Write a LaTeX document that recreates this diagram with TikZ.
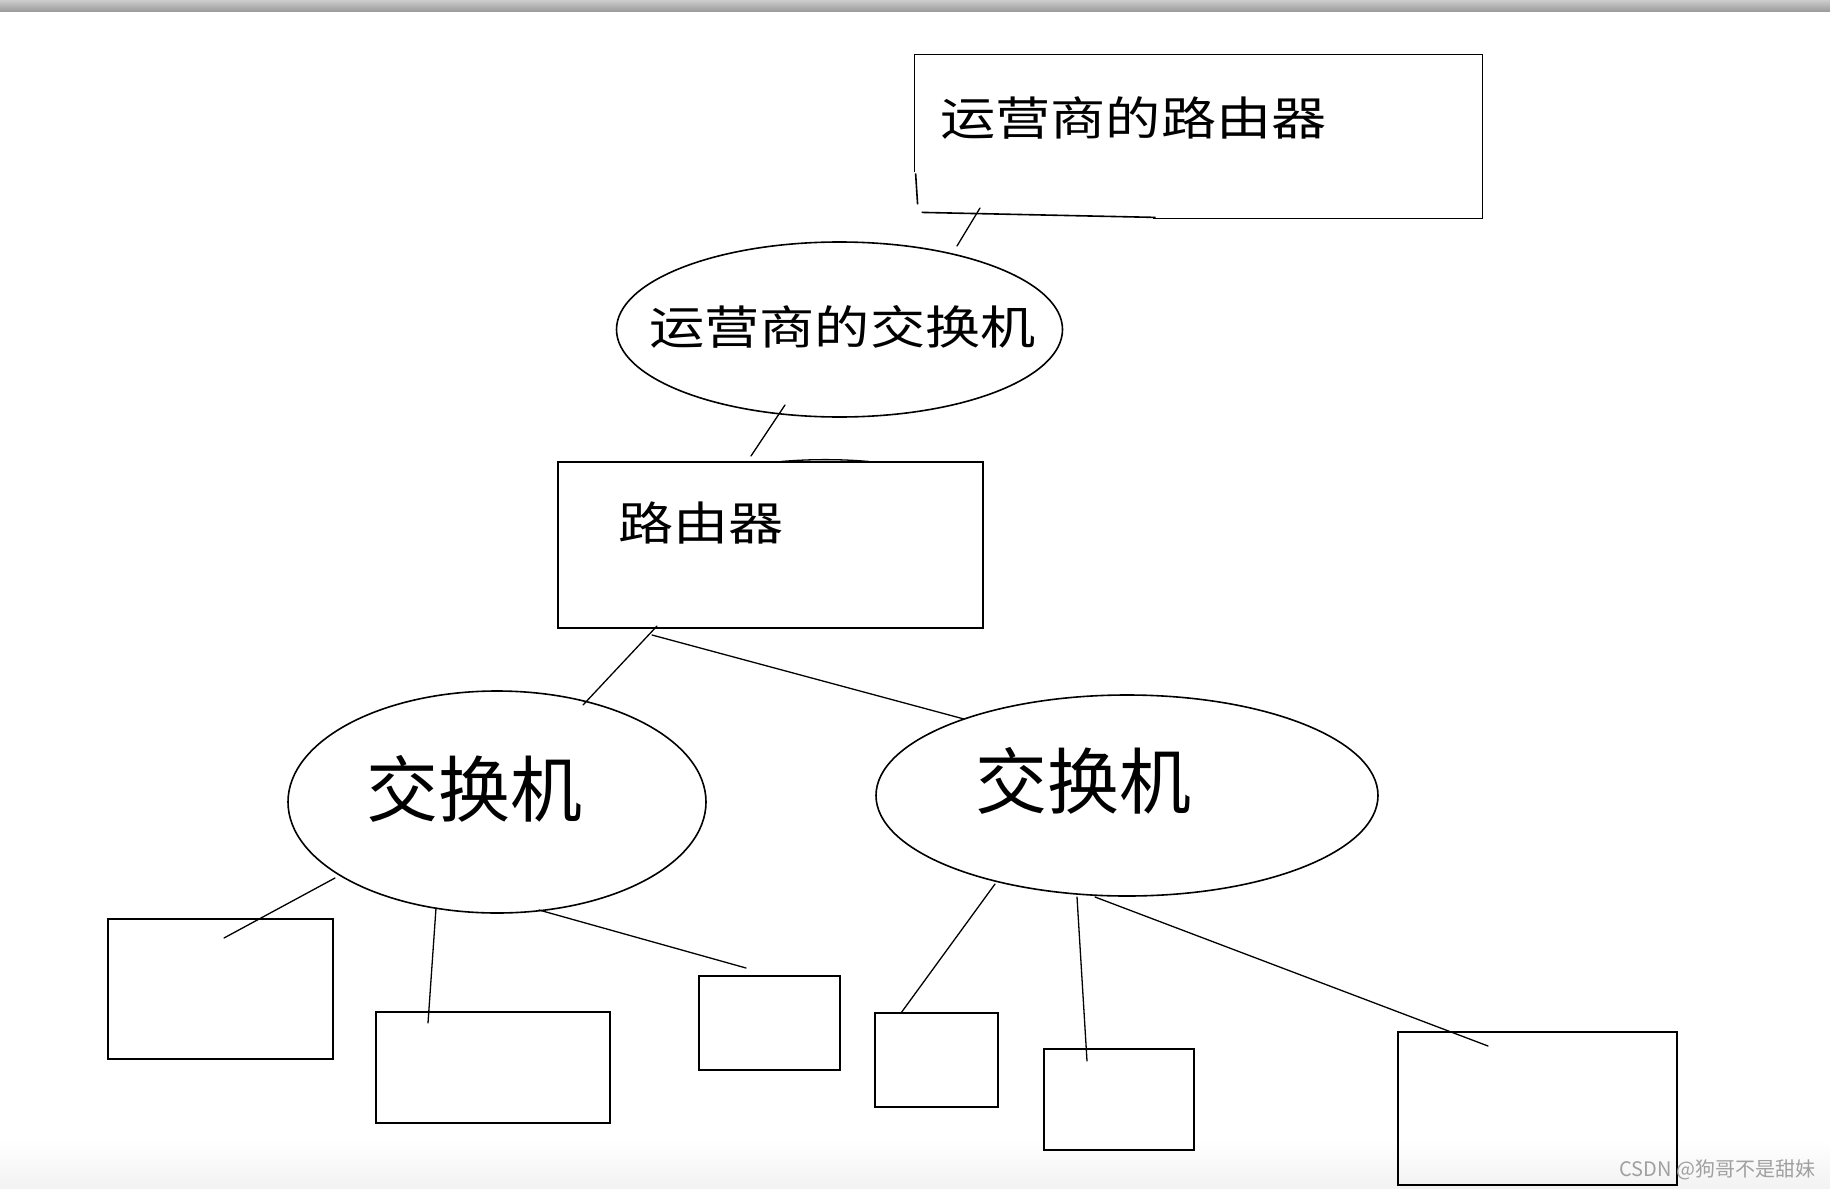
\documentclass[tikz,border=0pt]{standalone}
\usepackage{fontspec}
\setmainfont{Noto Sans CJK SC}
\newfontfamily\cjkwide[FakeStretch=1.2]{Noto Sans CJK SC}
\usepackage{tikz}
\usetikzlibrary{calc, shapes.geometric}
\definecolor{markgray}{HTML}{A0A0A0}

\begin{document}
\begin{tikzpicture}[
  x=0.5pt, y=-0.5pt,
  boxnode/.style={rectangle, draw, line width=0.8pt, inner sep=0pt, outer sep=0pt},
  swnode/.style={ellipse, draw, line width=0.8pt, inner sep=0pt, outer sep=0pt},
  lbl/.style={inner sep=0pt, font=\cjkwide\fontsize{23}{23}\selectfont},
  biglbl/.style={inner sep=0pt, font=\fontsize{36}{36}\selectfont},
  wire/.style={line width=0.65pt, line cap=round}
]

% === Canvas ===
\useasboundingbox (0,0) rectangle (1830,1188);
\fill[white] (0,0) rectangle (1830,1188);
\shade[top color=white, bottom color=black!5] (0,1140) rectangle (1830,1188);
\shade[top color=black!20, bottom color=black!40] (0,0) rectangle (1830,12);

% === Top: operator router (hand-drawn outline) ===
\node[rectangle, inner sep=0pt, minimum width=283.5pt, minimum height=81.5pt] (isp) at (1198.5,136.5) {};
\draw[boxnode] ($(isp.south west)+(0,-46)$) |- (isp.north east) |- ($(isp.south east)+(-329,0)$);
\draw[boxnode] ($(isp.south west)+(1,-45)$) -- ($(isp.south west)+(3,-14)$);
\draw[boxnode] ($(isp.south west)+(7,-6)$) -- ($(isp.south west)+(241,-1)$);
\node[lbl] (isptext) at (1133.5,118) {运营商的路由器};

% === Operator switch ===
\node[swnode, minimum width=223pt, minimum height=87.5pt] (ispsw) at (839.5,329.5) {};
\node[lbl] (ispswtext) at (842.5,326.5) {运营商的交换机};

% === Home router ===
\node[boxnode, minimum width=212.5pt, minimum height=83pt] (router) at (770.5,545) {};
\node[lbl] (routertext) at (701,522.5) {路由器};

% === Two switches ===
\node[swnode, minimum width=209pt, minimum height=111pt] (swl) at (497,802) {};
\node[biglbl] (swltext) at (474.5,789) {交换机};
\node[swnode, minimum width=251pt, minimum height=100.5pt] (swr) at (1127,795.5) {};
\node[biglbl] (swrtext) at (1083.5,781) {交换机};

% === Hosts ===
\node[boxnode, minimum width=112.5pt, minimum height=70pt] (pc1) at (220.5,989) {};
\node[boxnode, minimum width=117pt, minimum height=55.5pt] (pc2) at (493,1067.5) {};
\node[boxnode, minimum width=70.5pt, minimum height=47pt] (pc3) at (769.5,1023) {};
\node[boxnode, minimum width=61.5pt, minimum height=47pt] (pc4) at (936.5,1060) {};
\node[boxnode, minimum width=75pt, minimum height=50.5pt] (pc5) at (1119,1099.5) {};
\node[boxnode, minimum width=139.5pt, minimum height=76.5pt] (pc6) at (1537.5,1108.5) {};

% === Links ===
\draw[wire] ($(isp.center)+(-218.5,71.5)$) -- ($(ispsw.center)+(117.5,-83.5)$);
\draw[wire] ($(ispsw.center)+(-54.5,75.5)$) -- ($(router.center)+(-19.5,-89)$);
\draw[wire] ($(router.center)+(10.5,-83.5)$) .. controls ($(router.center)+(40,-86)$) and ($(router.center)+(70,-86)$) .. ($(router.center)+(98.5,-83.5)$);
\draw[wire] ($(router.center)+(-113.5,81)$) -- ($(swl.center)+(86,-97)$);
\draw[wire] ($(router.center)+(-118.5,90)$) -- ($(swr.center)+(-163,-76.5)$);

\draw[wire] ($(swl.center)+(-162,76)$) -- ($(pc1.center)+(3.5,-51)$);
\draw[wire] ($(swl.center)+(-61,106)$) -- ($(pc2.center)+(-65,-44.5)$);
\draw[wire] ($(swl.center)+(42,108)$) -- ($(pc3.center)+(-23.5,-55)$);

\draw[wire] ($(swr.center)+(-132,88.5)$) -- ($(pc4.center)+(-35.5,-47)$);
\draw[wire] ($(swr.center)+(-50,101.5)$) -- ($(pc5.center)+(-32,-38.5)$);
\draw[wire] ($(swr.center)+(-32,101.5)$) -- ($(pc6.center)+(-49.5,-62.5)$);

% === Watermark ===
\node[inner sep=0pt, font=\fontsize{10}{10}\selectfont, text=markgray] (mark) at (1717.5,1169.5) {CSDN @狗哥不是甜妹};

\end{tikzpicture}
\end{document}
